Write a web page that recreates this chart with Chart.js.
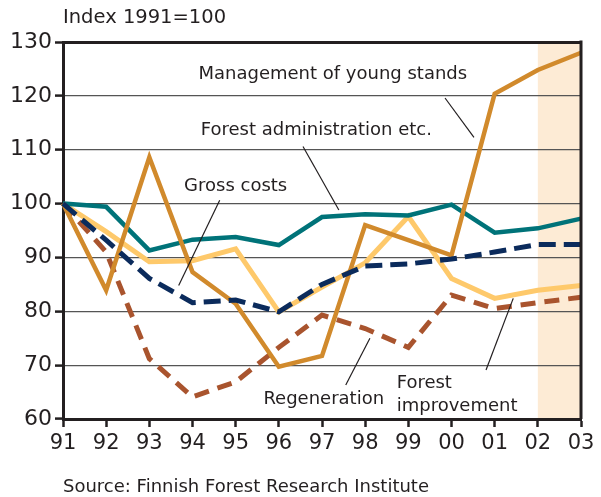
<!DOCTYPE html>
<html>
<head>
<meta charset="utf-8">
<script src="https://cdn.jsdelivr.net/npm/chart.js@4"></script>
<style>
  html, body { margin: 0; padding: 0; background: #fff; }
  #wrap { position: relative; width: 601px; height: 497px; }
</style>
</head>
<body>
<div id="wrap"><canvas id="costChart" width="601" height="497"></canvas></div>
<script>
// Data
const years = ['91', '92', '93', '94', '95', '96', '97', '98', '99', '00', '01', '02', '03'];
const yTicks = [60, 70, 80, 90, 100, 110, 120, 130];
const mgmtYoungStands = [100, 83.9, 108.6, 87.3, 81.4, 69.7, 71.7, 96.0, 93.2, 90.4, 120.4, 124.8, 128.0];
const forestAdmin = [100, 99.4, 91.3, 93.3, 93.8, 92.3, 97.5, 98.0, 97.8, 99.8, 94.6, 95.4, 97.2];
const forestImprovement = [100, 94.8, 89.2, 89.4, 91.6, 79.9, 84.5, 89.0, 97.6, 86.1, 82.4, 83.9, 84.8];
const grossCosts = [100, 93.2, 86.1, 81.6, 82.1, 79.9, 85.0, 88.4, 88.8, 89.7, 91.0, 92.4, 92.4];
const regeneration = [100, 91.0, 71.2, 64.1, 66.9, 73.3, 79.3, 76.8, 73.3, 83.0, 80.5, 81.6, 82.6];
// forecast band (category range)
const forecastFrom = '02';
const forecastTo = '03';

const INK = '#231f20';
const FONT = '"DejaVu Sans", sans-serif';

// annotations in data coordinates: [categoryIndex, value]
const notes = [
    { text: 'Management of young stands', at: [6.25, 124.0], align: 'center', line: [[8.85, 119.6], [9.52, 112.3]] },
    { text: 'Forest administration etc.', at: [5.87, 113.6], align: 'center', line: [[5.56, 110.6], [6.39, 98.8]] },
    { text: 'Gross costs', at: [4.0, 103.2], align: 'center', line: [[3.63, 100.6], [2.68, 84.8]] },
    { text: 'Regeneration', at: [6.04, 63.7], align: 'center', line: [[6.55, 66.3], [7.11, 75.0]] },
    { text: 'Forest', at: [7.73, 66.6], align: 'left', line: [[9.8, 69.1], [10.43, 82.4]] },
    { text: 'improvement', at: [7.73, 62.4], align: 'left', line: null }
];

const decorPlugin = {
    id: 'decor',
    beforeDraw(chart) {
        const { ctx, chartArea, scales } = chart;
        const x0 = scales.x.getPixelForValue(years.indexOf(forecastFrom));
        const x1 = scales.x.getPixelForValue(years.indexOf(forecastTo));
        ctx.save();
        ctx.fillStyle = '#fdebd5';
        ctx.fillRect(x0, chartArea.top, x1 - x0, chartArea.bottom - chartArea.top);
        ctx.restore();
    },
    afterDraw(chart) {
        const { ctx, chartArea, scales } = chart;
        const px = i => scales.x.left + (scales.x.getPixelForValue(1) - scales.x.getPixelForValue(0)) * i;
        const py = v => scales.y.getPixelForValue(v);
        ctx.save();
        // right frame
        ctx.strokeStyle = INK;
        ctx.lineWidth = 3;
        ctx.beginPath();
        ctx.moveTo(chartArea.right, chartArea.top - 1.5);
        ctx.lineTo(chartArea.right, chartArea.bottom);
        ctx.stroke();

        // annotations
        ctx.font = '18px ' + FONT;
        ctx.fillStyle = INK;
        ctx.textBaseline = 'middle';
        notes.forEach(n => {
            ctx.textAlign = n.align;
            ctx.fillText(n.text, px(n.at[0]), py(n.at[1]));
            if (n.line) {
                ctx.lineWidth = 1.2;
                ctx.beginPath();
                ctx.moveTo(px(n.line[0][0]), py(n.line[0][1]));
                ctx.lineTo(px(n.line[1][0]), py(n.line[1][1]));
                ctx.stroke();
            }
        });

        // title and source
        ctx.textAlign = 'left';
        ctx.font = '19.5px ' + FONT;
        ctx.fillText('Index 1991=100', chartArea.left, 18);
        ctx.font = '18px ' + FONT;
        ctx.fillText('Source: Finnish Forest Research Institute', chartArea.left, 487);
        ctx.restore();
    }
};

const ctx = document.getElementById('costChart').getContext('2d');
new Chart(ctx, {
    type: 'line',
    data: {
        labels: years,
        datasets: [
            {
                label: 'Gross costs',
                data: grossCosts,
                borderColor: '#0b2b5c',
                borderWidth: 5,
                borderDash: [17, 8],
                borderCapStyle: 'butt'
            },
            {
                label: 'Management of young stands',
                data: mgmtYoungStands,
                borderColor: '#d18a2c',
                borderWidth: 4.5
            },
            {
                label: 'Regeneration',
                data: regeneration,
                borderColor: '#a9542e',
                borderWidth: 5,
                borderDash: [15, 9],
                borderCapStyle: 'butt'
            },
            {
                label: 'Forest administration etc.',
                data: forestAdmin,
                borderColor: '#007379',
                borderWidth: 4.5
            },
            {
                label: 'Forest improvement',
                data: forestImprovement,
                borderColor: '#fec96b',
                borderWidth: 5
            }
        ]
    },
    options: {
        responsive: false,
        animation: false,
        layout: { padding: { top: 42, right: 20, bottom: 0, left: 0 } },
        elements: {
            point: { radius: 0, hoverRadius: 0 },
            line: { tension: 0, borderJoinStyle: 'miter', fill: false }
        },
        plugins: {
            legend: { display: false },
            tooltip: { enabled: false }
        },
        scales: {
            x: {
                offset: false,
                grid: {
                    drawOnChartArea: false,
                    tickLength: 8,
                    tickWidth: 2.5,
                    tickColor: INK
                },
                border: { display: true, width: 3, color: INK },
                ticks: {
                    autoSkip: false,
                    maxRotation: 0,
                    padding: 4,
                    color: INK,
                    font: { family: FONT, size: 21 }
                },
                afterFit: function(scale) { scale.height = 78; }
            },
            y: {
                min: 60,
                max: 130,
                afterBuildTicks: function(scale) {
                    scale.ticks = yTicks.map(v => ({ value: v }));
                },
                grid: {
                    color: c => (c.tick && (c.tick.value === 130 || c.tick.value === 60)) ? INK : '#555',
                    lineWidth: c => (c.tick && c.tick.value === 130) ? 3 : 1.2,
                    tickLength: 8,
                    tickWidth: 2.5,
                    tickColor: INK
                },
                border: { display: true, width: 3, color: INK },
                ticks: {
                    padding: 3,
                    color: INK,
                    font: { family: FONT, size: 22 }
                },
                afterFit: function(scale) { scale.width = 63; }
            }
        }
    },
    plugins: [decorPlugin]
});
</script>
</body>
</html>
